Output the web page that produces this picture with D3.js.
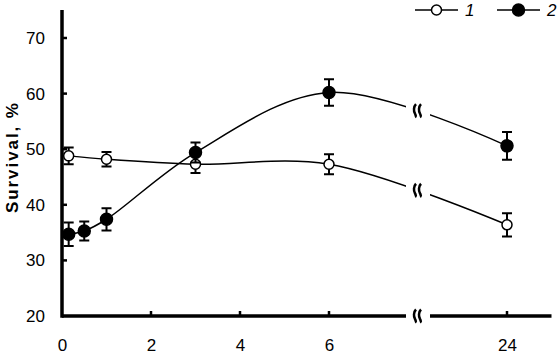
<!DOCTYPE html>
<html>
<head>
<meta charset="utf-8">
<script src="https://cdn.jsdelivr.net/npm/d3@7"></script>
<style>
  body { margin: 0; background: #fff; }
  text { font-family: "Liberation Sans", Arial, sans-serif; fill: #000; }
</style>
</head>
<body>
<div id="chart"></div>
<script>
const canvas_w  =   557;
const canvas_h  =   354;

// time, h
const hours1    =   [ 0.15, 1, 3, 6, 24 ];
const surv1     =   [ 48.8, 48.2, 47.3, 47.3, 36.4 ];
const err1      =   [ 1.5, 1.3, 1.6, 1.8, 2.1 ];

const hours2    =   [ 0.15, 0.5, 1, 3, 6, 24 ];
const surv2     =   [ 34.7, 35.3, 37.4, 49.4, 60.2, 50.6 ];
const err2      =   [ 2.1, 1.7, 2.0, 1.8, 2.4, 2.5 ];

const xTicks    =   [ 0, 2, 4, 6, 24 ];
const yTicks    =   [ 20, 30, 40, 50, 60, 70 ];
const legendLabels = [ '1', '2' ];

// broken time axis: 8..22 h squeezed out
let x           =   d3.scaleLinear()
                          .domain( [ 0, 8, 22, 25 ] )
                          .range( [ 62, 418, 418, 551.5 ] );

let y           =   d3.scaleLinear()
                          .domain( [ 20, 70 ] )
                          .range( [ 316, 38 ] );

let svg         =   d3.select( '#chart' )
                      .append( 'svg' )
                      .attr( 'width', canvas_w )
                      .attr( 'height', canvas_h );

const gapL = 406, gapR = 430, breakX = 417.5;

svg.append( 'clipPath' )
   .attr( 'id', 'gap' )
   .selectAll( 'rect' )
   .data( [ [ 0, gapL ], [ gapR, canvas_w ] ] )
   .enter()
   .append( 'rect' )
   .attr( 'x', d => d[0] )
   .attr( 'width', d => d[1] - d[0] )
   .attr( 'y', 0 )
   .attr( 'height', canvas_h );

// squiggle break mark, two wavy strokes
function squiggle( cx, cy ) {
    let p = '';
    [ -2.5, 2.5 ].forEach( function ( dx ) {
        let sx = cx + dx;
        p += 'M' + ( sx + 1 ) + ',' + ( cy - 6.5 ) +
             'C' + ( sx - 1.5 ) + ',' + ( cy - 4 ) + ' ' + ( sx - 1.5 ) + ',' + ( cy + 0.5 ) + ' ' + sx + ',' + ( cy + 3 ) +
             'C' + ( sx + 1 ) + ',' + ( cy + 4.5 ) + ' ' + ( sx + 0.5 ) + ',' + ( cy + 6 ) + ' ' + ( sx + 1.5 ) + ',' + ( cy + 6.5 );
    } );
    return p;
}

// axes
let xAxis = d3.axisBottom( x ).tickValues( xTicks ).tickSize( 0 ).tickPadding( 23 ).tickFormat( d3.format( 'd' ) );
let gx = svg.append( 'g' )
            .attr( 'transform', 'translate(0,' + y( 20 ) + ')' )
            .call( xAxis );
gx.select( '.domain' ).remove();
gx.selectAll( 'text' ).style( 'font-size', '17px' );

svg.append( 'path' )
   .attr( 'clip-path', 'url(#gap)' )
   .attr( 'd', 'M' + x( 0 ) + ',' + y( 20 ) + 'H' + x( 25 ) )
   .attr( 'stroke', '#000' )
   .attr( 'stroke-width', 3.5 );

svg.selectAll( '.xtick' )
   .data( xTicks.filter( d => d > 0 ) )
   .enter()
   .append( 'line' )
   .attr( 'x1', d => x( d ) )
   .attr( 'x2', d => x( d ) )
   .attr( 'y1', y( 20 ) )
   .attr( 'y2', y( 20 ) - 5 )
   .attr( 'stroke', '#000' )
   .attr( 'stroke-width', 2.5 );

let yAxis = d3.axisLeft( y ).tickValues( yTicks ).tickSize( 0 ).tickPadding( 17 );
let gy = svg.append( 'g' )
            .attr( 'transform', 'translate(' + x( 0 ) + ',0)' )
            .call( yAxis );
gy.select( '.domain' ).remove();
gy.selectAll( 'text' ).style( 'font-size', '17px' );

svg.append( 'line' )
   .attr( 'x1', x( 0 ) ).attr( 'x2', x( 0 ) )
   .attr( 'y1', 10 ).attr( 'y2', y( 20 ) + 1.75 )
   .attr( 'stroke', '#000' )
   .attr( 'stroke-width', 3.5 );

svg.selectAll( '.ytick' )
   .data( yTicks.filter( d => d > 20 ) )
   .enter()
   .append( 'line' )
   .attr( 'x1', x( 0 ) )
   .attr( 'x2', x( 0 ) + 5 )
   .attr( 'y1', d => y( d ) )
   .attr( 'y2', d => y( d ) )
   .attr( 'stroke', '#000' )
   .attr( 'stroke-width', 2.5 );

svg.append( 'path' )
   .attr( 'd', squiggle( breakX, y( 20 ) ) )
   .attr( 'fill', 'none' )
   .attr( 'stroke', '#000' )
   .attr( 'stroke-width', 2.5 );

svg.append( 'text' )
   .attr( 'transform', 'translate(18,158) rotate(-90)' )
   .attr( 'text-anchor', 'middle' )
   .attr( 'textLength', 110 )
   .attr( 'lengthAdjust', 'spacing' )
   .style( 'font-size', '17px' )
   .style( 'font-weight', 'bold' )
   .text( 'Survival, %' );

// series
let series = [
    { xs: hours1, ys: surv1, es: err1, fill: '#fff', r: 5 },
    { xs: hours2, ys: surv2, es: err2, fill: '#000', r: 6 }
];

let line = d3.line()
             .x( d => x( d[0] ) )
             .y( d => y( d[1] ) )
             .curve( d3.curveCatmullRom.alpha( 0.5 ) );

series.forEach( function ( s ) {
    let pts = s.xs.map( ( h, i ) => [ h, s.ys[i], s.es[i] ] );

    let path = svg.append( 'path' )
       .datum( pts )
       .attr( 'clip-path', 'url(#gap)' )
       .attr( 'd', line )
       .attr( 'fill', 'none' )
       .attr( 'stroke', '#000' )
       .attr( 'stroke-width', 1.5 );

    // find where the curve crosses the break, put the squiggle there
    let node = path.node(), len = node.getTotalLength(), by = 0;
    for ( let t = 0; t <= len; t += 0.5 ) {
        let p = node.getPointAtLength( t );
        if ( p.x >= breakX ) { by = p.y; break; }
    }
    svg.append( 'path' )
       .attr( 'd', squiggle( breakX, by ) )
       .attr( 'fill', 'none' )
       .attr( 'stroke', '#000' )
       .attr( 'stroke-width', 2.5 );

    let g = svg.append( 'g' );
    g.selectAll( 'path' )
     .data( pts )
     .enter()
     .append( 'path' )
     .attr( 'd', d => {
         let cx = x( d[0] ), t = y( d[1] + d[2] ), b = y( d[1] - d[2] );
         return 'M' + cx + ',' + t + 'V' + b +
                'M' + ( cx - 5 ) + ',' + t + 'H' + ( cx + 5 ) +
                'M' + ( cx - 5 ) + ',' + b + 'H' + ( cx + 5 );
     } )
     .attr( 'stroke', '#000' )
     .attr( 'stroke-width', 2 )
     .attr( 'fill', 'none' );

    g.selectAll( 'circle' )
     .data( pts )
     .enter()
     .append( 'circle' )
     .attr( 'cx', d => x( d[0] ) )
     .attr( 'cy', d => y( d[1] ) )
     .attr( 'r', s.r )
     .attr( 'fill', s.fill )
     .attr( 'stroke', '#000' )
     .attr( 'stroke-width', 1.5 );
} );

// legend
let legend = svg.selectAll( '.legend' )
                .data( series )
                .enter()
                .append( 'g' )
                .attr( 'transform', ( d, i ) => 'translate(' + ( 415 + i * 82 ) + ',10)' );

legend.append( 'line' )
      .attr( 'x1', 0 ).attr( 'x2', 43 )
      .attr( 'y1', 0 ).attr( 'y2', 0 )
      .attr( 'stroke', '#000' )
      .attr( 'stroke-width', 1.5 );

legend.append( 'circle' )
      .attr( 'cx', 21.5 )
      .attr( 'cy', 0 )
      .attr( 'r', d => d.r )
      .attr( 'fill', d => d.fill )
      .attr( 'stroke', '#000' )
      .attr( 'stroke-width', 1.5 );

legend.append( 'text' )
      .attr( 'x', 50 )
      .attr( 'y', 6 )
      .style( 'font-size', '17px' )
      .style( 'font-style', 'italic' )
      .text( ( d, i ) => legendLabels[i] );
</script>
</body>
</html>
